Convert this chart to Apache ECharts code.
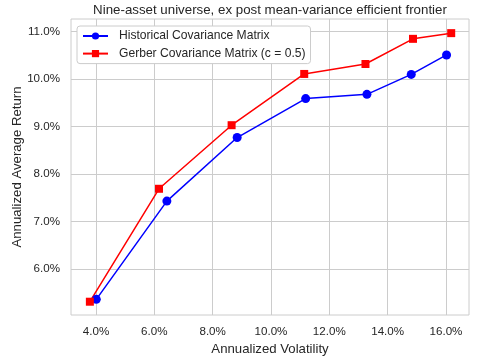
<!DOCTYPE html>
<html><head><meta charset="utf-8">
<script src="https://cdn.jsdelivr.net/npm/echarts@6/dist/echarts.min.js"></script>
<style>html,body{margin:0;padding:0;background:#fff}#c{width:480px;height:358px}</style>
</head><body><div id="c"></div>
<script>
const histVol = [4.01, 6.43, 8.84, 11.19, 13.29, 14.81, 16.02];
const histRet = [5.36, 7.43, 8.77, 9.59, 9.68, 10.10, 10.51];
const gerbVol = [3.79, 6.16, 8.65, 11.14, 13.24, 14.87, 16.18];
const gerbRet = [5.31, 7.69, 9.03, 10.11, 10.32, 10.85, 10.97];
const xTicks = [4, 6, 8, 10, 12, 14, 16];
const yTicks = [6, 7, 8, 9, 10, 11];
const seriesNames = ['Historical Covariance Matrix', 'Gerber Covariance Matrix (c = 0.5)'];

const font = 'Liberation Sans, Arial, sans-serif';
const chart = echarts.init(document.getElementById('c'), null, {renderer: 'canvas'});
const pairs = (xs, ys) => xs.map((x, i) => [x, ys[i]]);
chart.setOption({
  animation: false,
  backgroundColor: '#fff',
  title: {
    text: 'Nine-asset universe, ex post mean-variance efficient frontier',
    left: 265, textAlign: 'center', top: 2, padding: [2, 5, 2, 5],
    textStyle: {fontFamily: font, fontSize: 13.3, fontWeight: 'normal', color: '#262626'}
  },
  grid: {left: 71, right: 11, top: 19, bottom: 43, show: true, borderColor: '#cccccc', borderWidth: 1,
         containLabel: false, outerBoundsMode: 'none'},
  legend: {
    left: 77, top: 26, orient: 'vertical', itemGap: 3.6,
    itemWidth: 25, itemHeight: 9,
    backgroundColor: '#fff', borderColor: '#cccccc', borderWidth: 1, borderRadius: 3,
    padding: [3, 5, 3, 5],
    textStyle: {fontFamily: font, fontSize: 12.1, color: '#262626', lineHeight: 14, padding: [0, 0, 0, 6]},
    data: seriesNames
  },
  xAxis: {
    type: 'value', min: 3.143, max: 16.79,
    name: 'Annualized Volatility', nameLocation: 'middle', nameGap: 27,
    nameTextStyle: {fontFamily: font, fontSize: 13.2, color: '#262626'},
    axisLine: {show: false}, axisTick: {show: false, customValues: xTicks},
    axisLabel: {customValues: xTicks, formatter: v => v.toFixed(1) + '%', fontFamily: font, fontSize: 11.6, color: '#262626', margin: 11},
    splitLine: {show: true, lineStyle: {color: '#cccccc', width: 1}}
  },
  yAxis: {
    type: 'value', min: 5.03, max: 11.268,
    name: 'Annualized Average Return', nameLocation: 'middle', nameGap: 47, nameMoveOverlap: false,
    nameTextStyle: {fontFamily: font, fontSize: 13.2, color: '#262626'},
    axisLine: {show: false}, axisTick: {show: false, customValues: yTicks},
    axisLabel: {customValues: yTicks, formatter: v => v.toFixed(1) + '%', fontFamily: font, fontSize: 11.6, color: '#262626', margin: 11},
    splitLine: {show: true, lineStyle: {color: '#cccccc', width: 1}}
  },
  series: [
    {name: seriesNames[0], type: 'line', data: pairs(histVol, histRet), color: '#0000ff',
     symbol: 'circle', symbolSize: 9, lineStyle: {width: 1.5}, itemStyle: {color: '#0000ff'}},
    {name: seriesNames[1], type: 'line', data: pairs(gerbVol, gerbRet), color: '#ff0000',
     symbol: 'rect', symbolSize: 8, lineStyle: {width: 1.5}, itemStyle: {color: '#ff0000'}}
  ]
});
</script></body></html>
